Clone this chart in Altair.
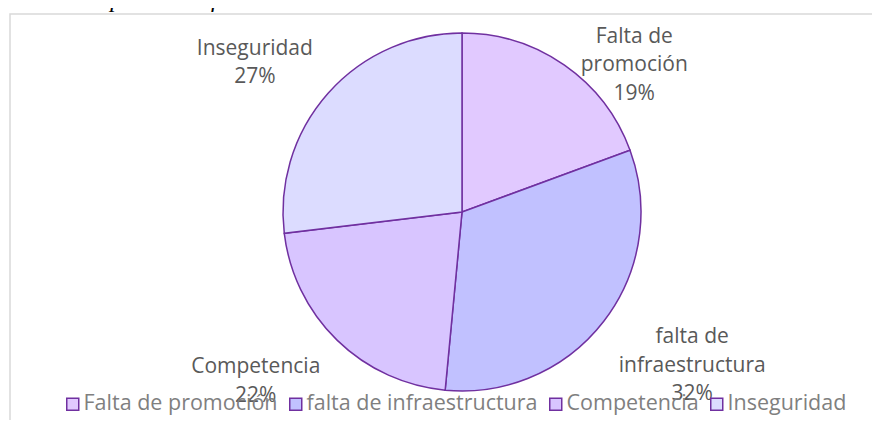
import altair as alt
import pandas as pd

# ---- data ----
categories = ["Falta de promoción", "falta de infraestructura", "Competencia", "Inseguridad"]
label_names = ["Falta de\npromoción", "falta de\ninfraestructura", "Competencia", "Inseguridad"]
shares = [19.4, 32.1, 21.6, 26.9]          # percent of total
colors = ["#E1C9FF", "#C1C1FF", "#D8C5FF", "#DCDCFF"]
title_text = "Figura 9: Principales desafíos de las nuevas"

df = pd.DataFrame({
    "cat": categories,
    "name": label_names,
    "value": shares,
    "idx": list(range(len(categories))),
})

STROKE = "#7030A0"
CX, CY, R = 452, 198, 179

color = alt.Color(
    "cat:N",
    scale=alt.Scale(domain=categories, range=colors),
    sort=categories,
    legend=alt.Legend(
        title=None,
        orient="none",
        direction="horizontal",
        legendX=52,
        legendY=379,
        symbolType="square",
        symbolSize=144,
        symbolStrokeColor=STROKE,
        symbolStrokeWidth=1.5,
        labelFont="Open Sans",
        labelFontSize=21.5,
        labelColor="#7F7F7F",
        labelOffset=0,
        labelLimit=0,
        columnPadding=7,
        padding=0,
    ),
)

pie = alt.Chart(df).mark_arc(outerRadius=R, stroke=STROKE, strokeWidth=1.5).encode(
    theta=alt.Theta("value:Q", stack=True),
    color=color,
    order=alt.Order("idx:Q"),
    x=alt.value(CX),
    y=alt.value(CY),
)

# label angle: slice mid-angle with Excel-like best-fit nudges (anchor = first line)
labels = (
    alt.Chart(df)
    .transform_window(cum="sum(value)", sort=[alt.SortField("idx")], frame=[None, 0])
    .transform_calculate(
        mid="(datum.cum - datum.value / 2) * 3.6",
        ang="datum.mid + (datum.idx == 0 ? 9.3 : datum.idx == 1 ? -9.5 : datum.idx == 2 ? 9.1 : -3.0)",
        rad="datum.idx == 0 ? 247 : datum.idx == 1 ? 261 : datum.idx == 2 ? 257 : 265",
        txt="split(datum.name + '\\n' + format(datum.value / 100, '.0%'), '\\n')",
    )
    .mark_text(
        font="Open Sans", fontSize=21, color="#595959",
        lineHeight=28.5, align="center", baseline="middle", dy=2,
    )
    .encode(
        theta=alt.Theta("ang:Q", scale=alt.Scale(domain=[0, 360], range=[0, 6.283185307]), stack=None),
        radius=alt.Radius("rad:Q", scale=None),
        text=alt.Text("txt:N"),
        x=alt.value(CX),
        y=alt.value(CY),
    )
)

title = alt.Chart(alt.Data(values=[{}])).mark_text(
    text=title_text, font="Liberation Serif", fontStyle="italic", fontSize=24,
    color="#000000", align="right", baseline="alphabetic",
).encode(x=alt.value(371), y=alt.value(-6.7))

chart = (
    alt.layer(pie, labels, title)
    .resolve_scale(theta="independent")
    .properties(
        width=900,
        height=440,
        autosize=alt.AutoSizeParams(type="none"),
        padding={"left": 2, "top": 6, "right": -38, "bottom": -34},
    )
    .configure_view(stroke="#D9D9D9", strokeWidth=1.5)
)

chart.save("out.html", embed_options={"renderer": "svg", "actions": False})
